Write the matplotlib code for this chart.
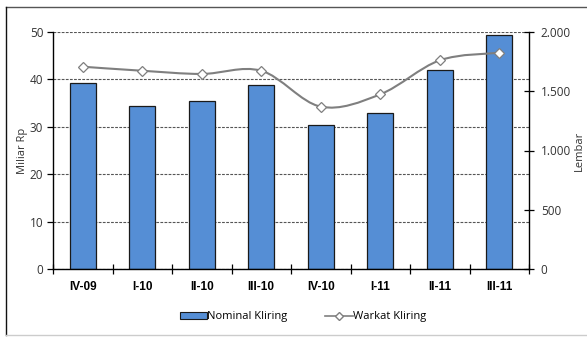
import numpy as np
import matplotlib.pyplot as plt
from matplotlib.path import Path
from matplotlib.patches import PathPatch, Patch
from matplotlib.lines import Line2D

quarters = ["IV-09", "I-10", "II-10", "III-10", "IV-10", "I-11", "II-11", "III-11"]
nominal_kliring = [39.2, 34.4, 35.4, 38.8, 30.4, 33.0, 42.0, 49.3]   # Miliar Rp
warkat_kliring = [1707, 1673, 1646, 1673, 1370, 1474, 1761, 1825]    # Lembar

W, H = 587, 338
fig = plt.figure(figsize=(W / 100, H / 100), dpi=100)
fig.patch.set_facecolor("white")

ax = fig.add_axes([53 / W, 1 - 269 / H, (529 - 53) / W, (269 - 32) / H])
ax2 = ax.twinx()

x = np.arange(len(quarters))
ax.bar(x, nominal_kliring, width=0.44, color="#558ED5", edgecolor="#1a1a1a",
       linewidth=0.9, zorder=2)
ax.set_xlim(-0.5, len(quarters) - 0.5)
ax.set_ylim(0, 50)
ax.set_yticks(np.arange(0, 51, 10))
ax.yaxis.grid(True, linestyle=(0, (2.5, 1.2)), color="#555555", linewidth=0.8, zorder=0)
ax.set_axisbelow(True)

tick_font = "Open Sans"
ax.set_xticks(x)
ax.set_xticklabels(quarters, fontsize=8.5, fontweight="bold", family="Liberation Sans")
ax.set_xticks(np.arange(-0.5, len(quarters)), minor=True)
ax.tick_params(axis="x", which="major", length=0, pad=9)
ax.tick_params(axis="x", which="minor", direction="inout", length=7, width=0.9)
ax.tick_params(axis="y", direction="out", length=4, width=0.9, labelsize=8.5, pad=3)
for t in ax.get_yticklabels():
    t.set_family(tick_font)
    t.set_color("#333333")

for s in ["top", "right"]:
    ax.spines[s].set_visible(False)
ax.spines["left"].set_linewidth(1.0)
ax.spines["bottom"].set_linewidth(1.0)
ax.set_ylabel("Miliar Rp", fontsize=8, family=tick_font, color="#333333", labelpad=1)

# Smoothed line through the quarterly points (cubic Bezier segments)
ax2.set_ylim(0, 2000)
ax2.set_yticks(np.arange(0, 2001, 500))
ax2.set_yticklabels(["0", "500", "1.000", "1.500", "2.000"], family=tick_font, color="#333333")
ax2.tick_params(axis="y", direction="inout", length=7, width=0.9, labelsize=8.5, pad=5)
for s in ["top", "left", "bottom"]:
    ax2.spines[s].set_visible(False)
ax2.spines["right"].set_linewidth(1.0)
ax2.set_ylabel("Lembar", fontsize=8, family=tick_font, color="#333333", labelpad=2)

px = x.astype(float)
py = np.array(warkat_kliring, dtype=float)
n = len(px)
verts = [(px[0], py[0])]
codes = [Path.MOVETO]
k = 1 / 6
for i in range(n - 1):
    p0 = (px[i - 1], py[i - 1]) if i > 0 else (px[i], py[i])
    p1 = (px[i], py[i])
    p2 = (px[i + 1], py[i + 1])
    p3 = (px[i + 2], py[i + 2]) if i + 2 < n else p2
    c1 = (p1[0] + (p2[0] - p0[0]) * k, p1[1] + (p2[1] - p0[1]) * k)
    c2 = (p2[0] - (p3[0] - p1[0]) * k, p2[1] - (p3[1] - p1[1]) * k)
    verts += [c1, c2, p2]
    codes += [Path.CURVE4] * 3
ax2.add_patch(PathPatch(Path(verts, codes), facecolor="none", edgecolor="#7f7f7f",
                        linewidth=1.5, zorder=3))
ax2.plot(px, py, linestyle="none", marker="D", markersize=5.5,
         markerfacecolor="white", markeredgecolor="#7f7f7f", markeredgewidth=0.9, zorder=4)

handles = [
    Patch(facecolor="#558ED5", edgecolor="#1a1a1a", linewidth=0.8, label="Nominal Kliring"),
    Line2D([], [], color="#7f7f7f", linewidth=1.2, marker="D", markersize=4,
           markerfacecolor="white", markeredgecolor="#7f7f7f", label="Warkat Kliring"),
]
fig.legend(handles=handles, loc="center", bbox_to_anchor=(303 / W, 1 - 317 / H),
           ncol=2, frameon=False, prop={"family": tick_font, "size": 8},
           handlelength=2.5, handleheight=0.5, handletextpad=0.0, columnspacing=3.4)

# Outer frame
fig.add_artist(Line2D([6 / W, 1], [1 - 7 / H, 1 - 7 / H], color="#555555", linewidth=1.0,
                      transform=fig.transFigure))
fig.add_artist(Line2D([6 / W, 6 / W], [1 - 7 / H, 1 - 335 / H], color="#111111", linewidth=1.0,
                      transform=fig.transFigure))
fig.add_artist(Line2D([6 / W, 1], [1 - 335 / H, 1 - 335 / H], color="#cccccc", linewidth=1.0,
                      transform=fig.transFigure))

fig.savefig("out.png", dpi=100, facecolor="white")
